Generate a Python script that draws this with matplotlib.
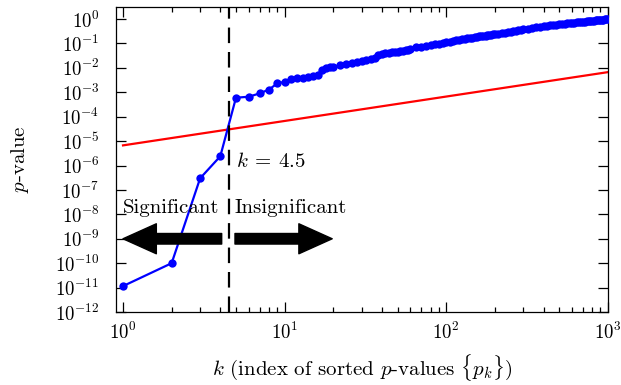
import matplotlib
matplotlib.use("Agg")
import matplotlib.pyplot as plt
from matplotlib.ticker import LogLocator, NullLocator
import numpy as np

plt.rcParams['font.family'] = 'serif'
plt.rcParams['font.serif'] = ['cmr10']
plt.rcParams['mathtext.fontset'] = 'cm'
plt.rcParams['axes.formatter.use_mathtext'] = True

# sorted p-values
k_vals = [1, 2, 3, 4, 5, 6, 7, 8, 9, 10, 11, 12, 13, 14, 15, 16, 17, 18, 19, 20,
          22, 24, 26, 28, 30, 32, 34, 36, 38, 40, 42, 44, 46, 48, 50, 52, 54, 56, 58,
          60, 65, 70, 75, 80, 85, 90, 95, 100, 105, 110, 115, 120, 125, 130, 135,
          140, 145, 150, 155, 160, 165, 170, 175, 180, 185, 190, 195, 200,
          210, 220, 230, 240, 250, 260, 270, 280, 290, 300,
          320, 340, 360, 380, 400, 420, 440, 460, 480, 500, 520, 540, 560, 580,
          600, 620, 640, 660, 680, 700, 720, 740, 760, 780, 800, 820, 840, 860,
          880, 900, 920, 940, 960, 980, 1000]
p_vals = [1.15e-11, 1.0e-10, 3.0e-7, 2.4e-6, 6.0e-4, 6.6e-4, 9.0e-4, 1.3e-3, 2.3e-3,
          2.7e-3, 3.4e-3, 3.7e-3, 4.0e-3, 4.2e-3, 4.6e-3, 5.3e-3, 8.1e-3, 1.02e-2,
          1.07e-2, 1.12e-2,
          0.0126, 0.0144, 0.0158, 0.0178, 0.019, 0.021, 0.0224, 0.025, 0.033, 0.037,
          0.039, 0.041, 0.043, 0.045, 0.046, 0.047, 0.049, 0.052, 0.056,
          0.060, 0.070, 0.075, 0.080, 0.086, 0.091, 0.096, 0.103, 0.110, 0.118,
          0.125, 0.133, 0.140, 0.148, 0.155, 0.162, 0.168, 0.174, 0.180, 0.187,
          0.194, 0.200, 0.206, 0.212, 0.218, 0.224, 0.230, 0.236, 0.242,
          0.255, 0.268, 0.280, 0.295, 0.308, 0.322, 0.336, 0.350, 0.365, 0.380,
          0.405, 0.430, 0.455, 0.480, 0.505, 0.530, 0.553, 0.575, 0.598, 0.618,
          0.635, 0.652, 0.668, 0.685, 0.702, 0.718, 0.735, 0.750, 0.765, 0.780,
          0.795, 0.810, 0.825, 0.840, 0.855, 0.870, 0.885, 0.900, 0.915, 0.930,
          0.945, 0.958, 0.970, 0.985, 0.998]

# threshold line (end points)
thr_k = [1, 1000]
thr_p = [6.7e-6, 6.7e-3]
k_cut = 4.5

fig = plt.figure(figsize=(6.21, 3.85), dpi=100)
ax = fig.add_axes([0.1868, 0.1896, 0.792, 0.792])

ax.plot(thr_k, thr_p, color='#ff0000', lw=1.6, zorder=2)
ax.plot(k_vals, p_vals, color='#0000ff', lw=1.6, marker='o', ms=6,
        markeredgewidth=0, zorder=3)
ax.axvline(k_cut, color='k', lw=1.6, dashes=(7, 4), zorder=4)

ax.set_xscale('log')
ax.set_yscale('log')
ax.set_xlim(0.905, 1000)
ax.set_ylim(1e-12, 3.1)
ax.yaxis.set_major_locator(LogLocator(base=10, numticks=20))
ax.yaxis.set_minor_locator(NullLocator())

ax.tick_params(which='both', direction='in', top=True, right=True, width=0.9)
ax.tick_params(which='major', length=7, labelsize=13.5)
ax.tick_params(axis='x', which='major', pad=7)
ax.tick_params(axis='y', which='major', pad=12)
ax.tick_params(which='minor', length=3.5)
for s in ax.spines.values():
    s.set_linewidth(0.9)

ax.set_xlabel(r'$k$ (index of sorted $p$-values $\{p_k\}$)', fontsize=15, labelpad=7)
ax.set_ylabel(r'$p$-value', fontsize=15)
ax.yaxis.set_label_coords(-0.172, 0.5)

ax.text(4.98, 1.5e-6, r'$k\:=\:4.5$', fontsize=15, va='center', ha='left')
ax.text(1.0, 1.8e-8, 'Significant', fontsize=15, va='center', ha='left')
ax.text(4.93, 1.8e-8, 'Insignificant', fontsize=15, va='center', ha='left')

arrow_style = 'simple,head_length=1.2,head_width=1.08,tail_width=0.38'
ax.annotate('', xy=(1.0, 1e-9), xytext=(4.08, 1e-9),
            arrowprops=dict(arrowstyle=arrow_style, color='k', shrinkA=0, shrinkB=0,
                            mutation_scale=20))
ax.annotate('', xy=(19.7, 1e-9), xytext=(4.93, 1e-9),
            arrowprops=dict(arrowstyle=arrow_style, color='k', shrinkA=0, shrinkB=0,
                            mutation_scale=20))

fig.savefig('out.png', dpi=100)
